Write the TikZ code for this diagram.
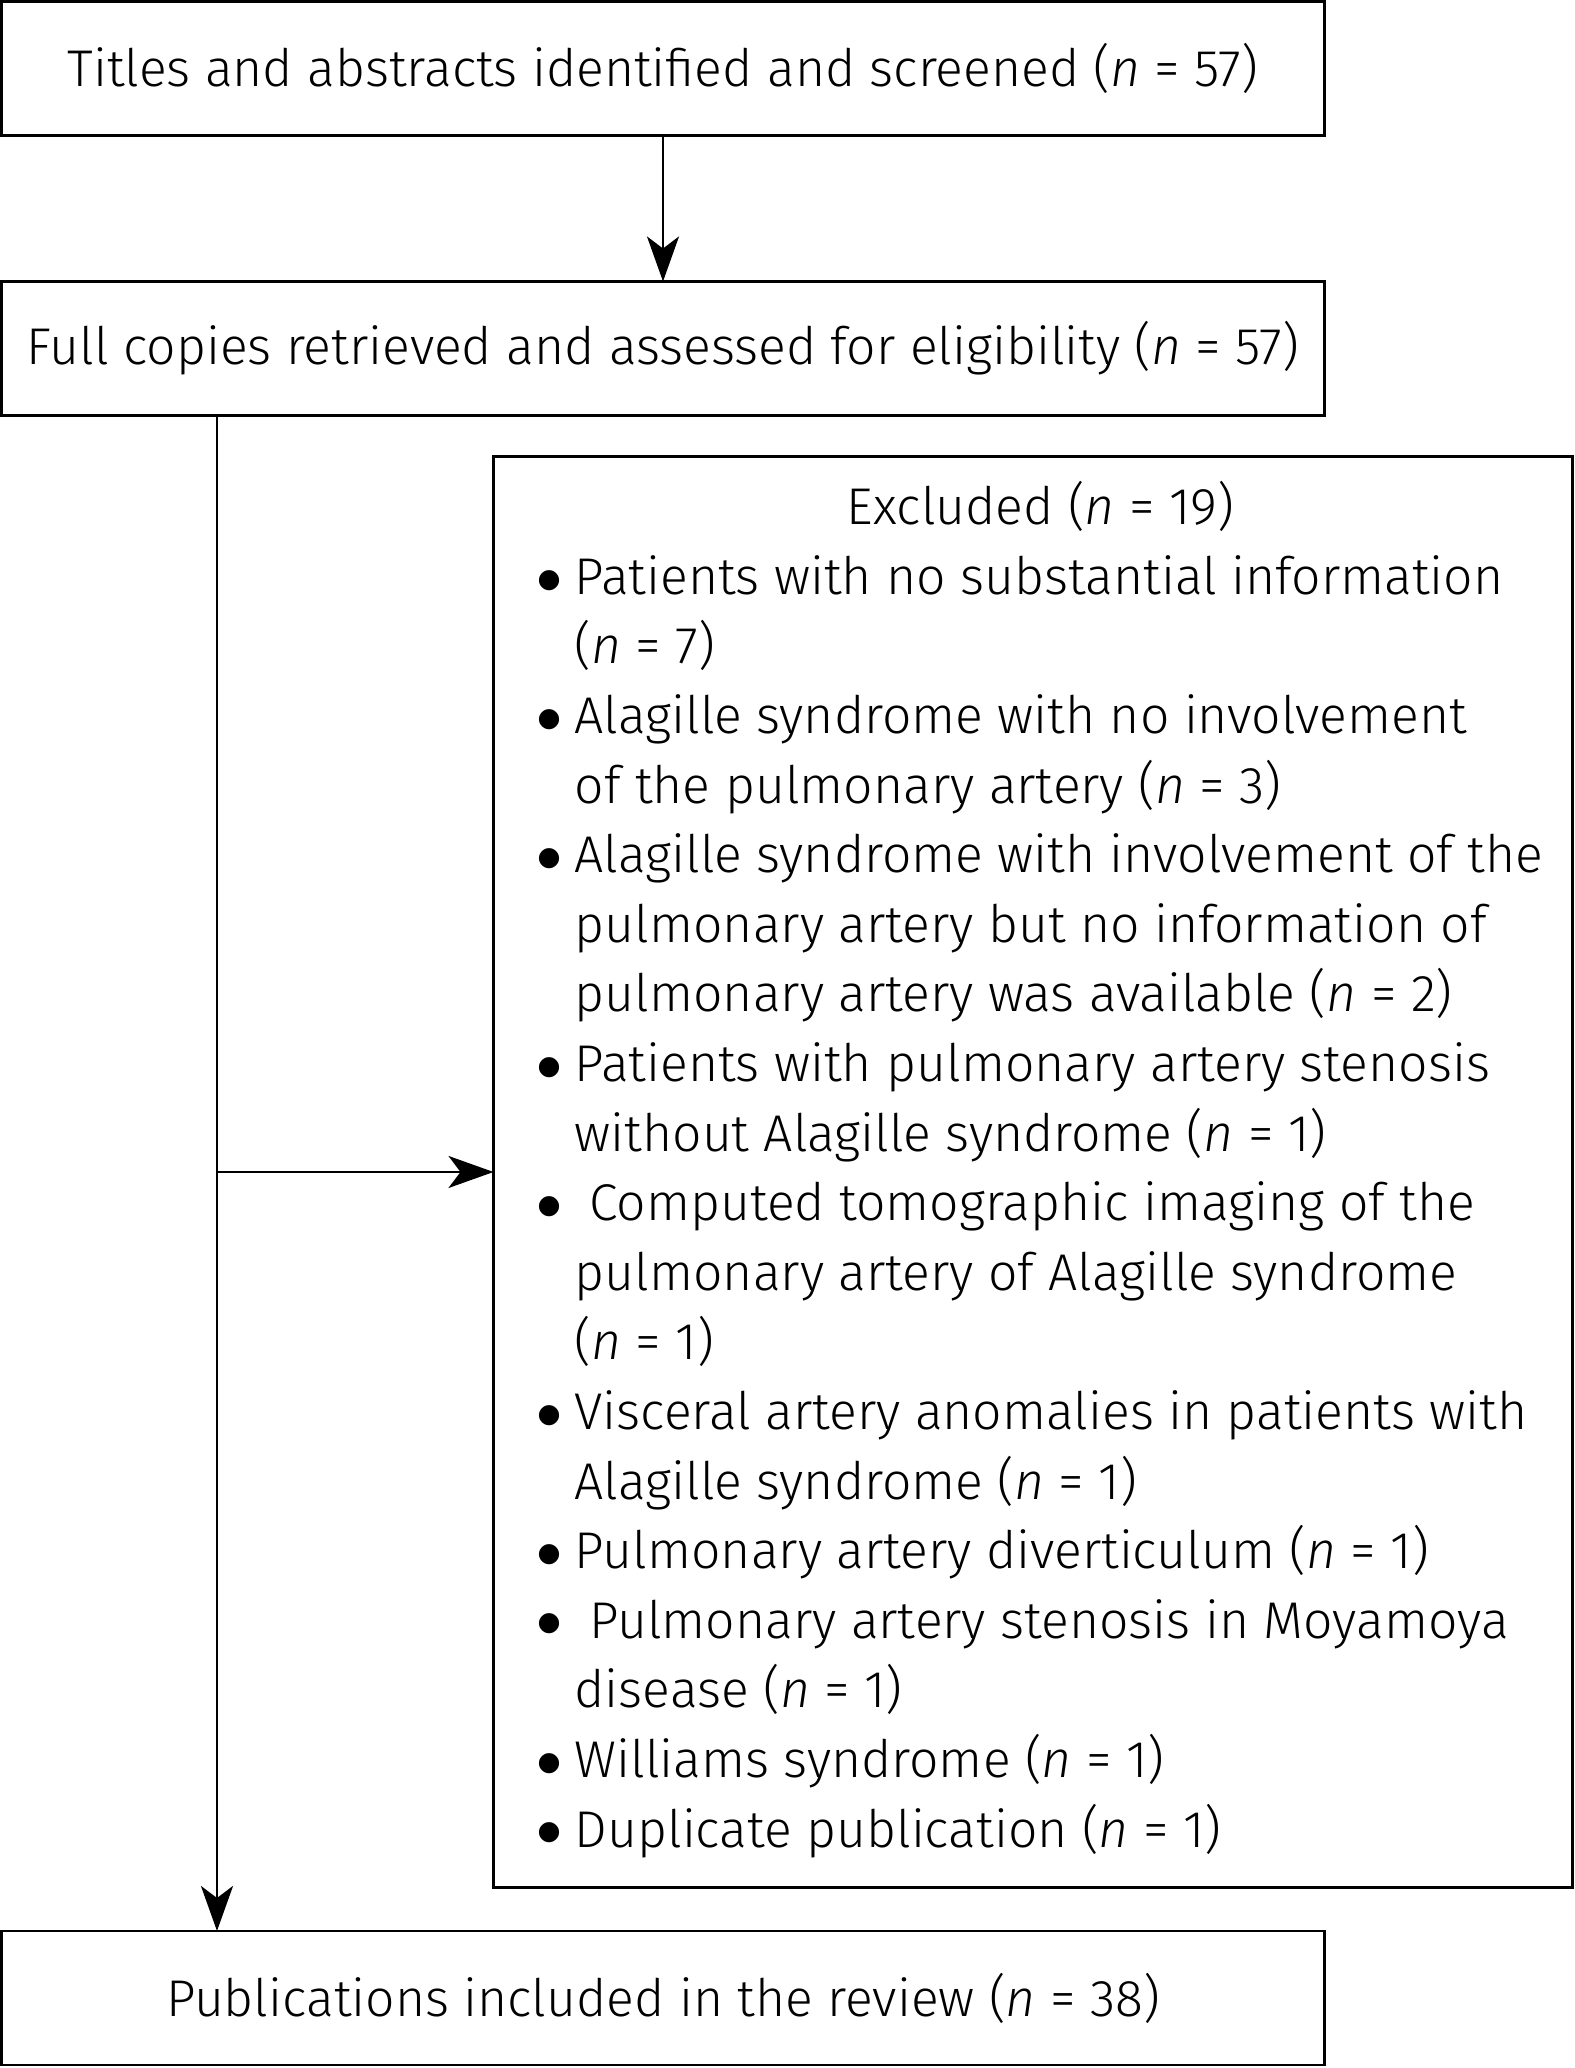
\documentclass[tikz,border=0pt]{standalone}
\usepackage{fontspec}
\setmainfont{Fira Sans}[UprightFont=* Light, ItalicFont=* Light Italic]
\newfontfamily\bulletfont{DejaVu Sans}
\usepackage{tikz}
\usetikzlibrary{arrows.meta,positioning,calc}
\definecolor{ink}{HTML}{000000}
\newcommand{\boxfont}{\fontsize{29.4}{39.6}\selectfont}
\newcommand{\nn}{\textit{n}}
\newcommand{\bul}{\raisebox{4.2pt}{\bulletfont\fontsize{15}{15}\selectfont ●}}
\tikzset{
  >={Stealth[length=9mm,width=6.4mm,inset=2.4mm]},
  flowbox/.style={rectangle, draw=ink, line width=1.7pt, minimum width=26.46cm,
                  minimum height=2.68cm, inner sep=0pt, outer sep=0pt,
                  font=\boxfont, text=ink},
  exclbox/.style={flowbox, minimum width=21.58cm, minimum height=28.62cm},
  flow/.style={->, draw=ink, line width=1.5pt},
}

\begin{document}
\begin{tikzpicture}[line join=miter]
\useasboundingbox (0,0) rectangle (31.5,41.36);

% ===================== MAIN COLUMN =====================
\node[flowbox] (screen) at (13.26,39.985)
  {Titles and abstracts identified and screened (\nn{} = 57)};
\node[flowbox] (full) at (13.26,34.39)
  {Full copies retrieved and assessed for eligibility (\nn{} = 57)};
\node[flowbox] (incl) at (13.26,1.40)
  {Publications included in the review (\nn{} = 38)};

% ===================== EXCLUSIONS =====================
\node[exclbox] (excl) at (20.66,17.92)
  {\hspace{0.3cm}\begin{tabular}{@{}l@{\hspace{8pt}}l@{}}
   \multicolumn{2}{c}{Excluded (\nn{} = 19)}\\
   \bul & Patients with no substantial information\\
        & (\nn{} = 7)\\
   \bul & Alagille syndrome with no involvement\\
        & of the pulmonary artery (\nn{} = 3)\\
   \bul & Alagille syndrome with involvement of the\\
        & pulmonary artery but no information of\\
        & pulmonary artery was available (\nn{} = 2)\\
   \bul & Patients with pulmonary artery stenosis\\
        & without Alagille syndrome (\nn{} = 1)\\
   \bul & \ Computed tomographic imaging of the\\
        & pulmonary artery of Alagille syndrome\\
        & (\nn{} = 1)\\
   \bul & Visceral artery anomalies in patients with\\
        & Alagille syndrome (\nn{} = 1)\\
   \bul & Pulmonary artery diverticulum (\nn{} = 1)\\
   \bul & \ Pulmonary artery stenosis in Moyamoya\\
        & disease (\nn{} = 1)\\
   \bul & Williams syndrome (\nn{} = 1)\\
   \bul & Duplicate publication (\nn{} = 1)
   \end{tabular}};

% ---- connectors ----
\coordinate (split) at (4.34,0);
\draw[flow] (screen) -- (full);
\draw[flow] (full.south -| split) -- (incl.north -| split);
\draw[flow] (split |- excl.west) -- (excl.west);

\end{tikzpicture}
\end{document}
